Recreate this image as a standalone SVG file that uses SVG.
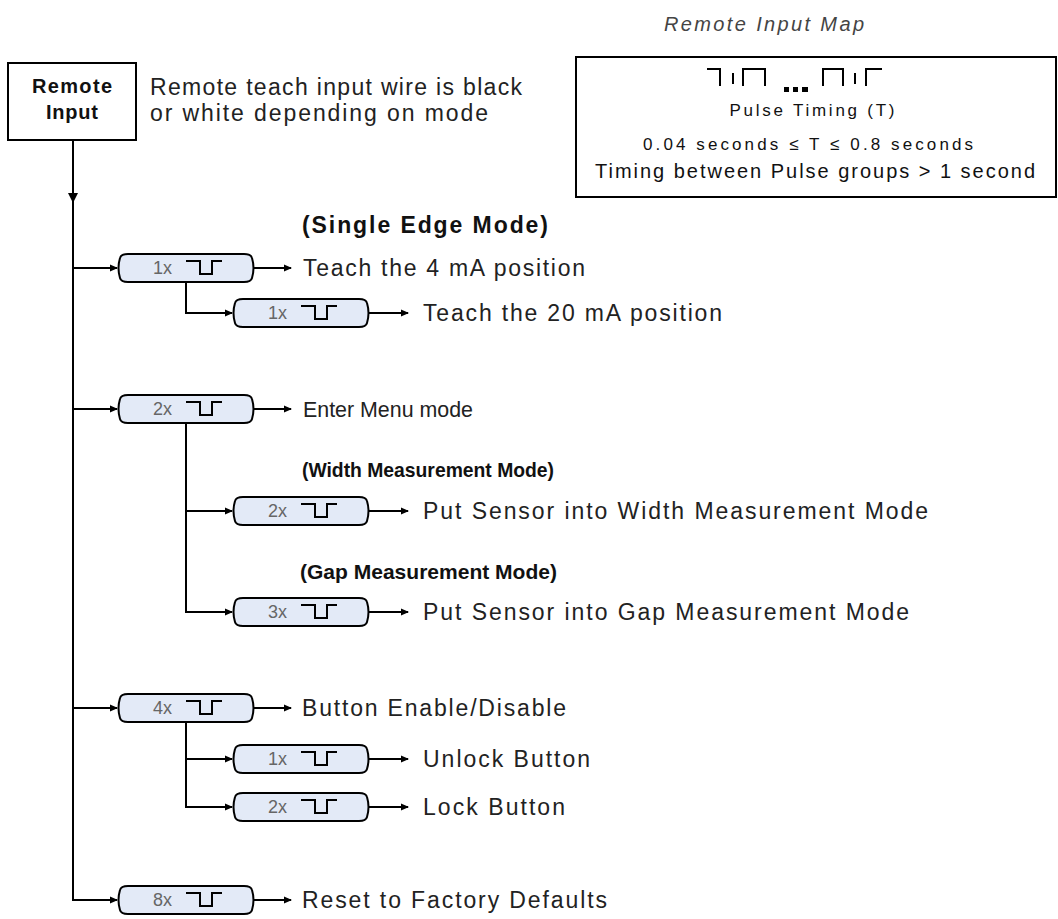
<svg xmlns="http://www.w3.org/2000/svg" xmlns:xlink="http://www.w3.org/1999/xlink" width="1058" height="919" viewBox="0 0 1058 919">
<style>
.t{font-family:"Liberation Sans",Arial,sans-serif;font-size:23px;fill:#222}
.e{font-family:"Liberation Sans",Arial,sans-serif;font-size:22px;fill:#222}
.b{font-family:"Liberation Sans",Arial,sans-serif;font-size:23px;font-weight:bold;fill:#111}
.bw{font-family:"Liberation Sans",Arial,sans-serif;font-size:21px;font-weight:bold;fill:#111}
.c{font-family:"Liberation Sans",Arial,sans-serif;font-size:18px;fill:#666}
.m{font-family:"Liberation Sans",Arial,sans-serif;font-size:20px;fill:#111}
.s{font-family:"Liberation Sans",Arial,sans-serif;font-size:17px;fill:#111}
.ttl{font-family:"Liberation Sans",Arial,sans-serif;font-size:20px;font-style:italic;fill:#444}
.bx{font-family:"Liberation Sans",Arial,sans-serif;font-size:20px;font-weight:bold;fill:#111}
.ar{fill:none;stroke:#000;stroke-width:2;marker-end:url(#ah)}
.pn{fill:#e3eaf7;stroke:#000;stroke-width:2}
.pl{fill:none;stroke:#000;stroke-width:2}
</style>
<defs>
<marker id="ah" viewBox="0 0 8 8" refX="7" refY="4" markerWidth="8" markerHeight="8" markerUnits="userSpaceOnUse" orient="auto">
<path d="M0,0.5 L8,4 L0,7.5 Z" fill="#000"/>
</marker>
<g id="pnode">
<path class="pn" d="M10,0 H126 Q133,0 134,4 Q137,14 134,24 Q133,28 126,28 H10 Q3,28 2,24 Q-1,14 2,4 Q3,0 10,0 Z"/>
<path class="pl" d="M68,7 H82 V20 H94 V7 H104"/>
</g>
</defs>
<rect width="1058" height="919" fill="#fff"/>

<text class="ttl" x="764" y="31" text-anchor="middle" textLength="200" lengthAdjust="spacing">Remote Input Map</text>

<g id="remote-input">
<rect x="8" y="63" width="128" height="77" fill="#fff" stroke="#000" stroke-width="2"/>
<text class="bx" x="72" y="93" text-anchor="middle" textLength="80" lengthAdjust="spacing">Remote</text>
<text class="bx" x="72" y="119" text-anchor="middle" textLength="52" lengthAdjust="spacing">Input</text>
</g>

<g id="remote-note">
<text class="t" x="150" y="95" textLength="372" lengthAdjust="spacing">Remote teach input wire is black</text>
<text class="t" x="150" y="121" textLength="338" lengthAdjust="spacing">or white depending on mode</text>
</g>

<g id="input-map">
<rect x="576" y="57" width="480" height="140" fill="#fff" stroke="#000" stroke-width="2"/>
<path class="pl" d="M707,69 H720 V86 M733,73 V84 M743,86 V69 H765 V86 M823,86 V69 H843 V86 M855,73 V84 M866,86 V69 H882"/>
<rect x="784" y="87" width="5" height="5" fill="#000"/>
<rect x="793" y="87" width="5" height="5" fill="#000"/>
<rect x="802" y="87" width="6" height="5" fill="#000"/>
<text class="s" x="812" y="116" text-anchor="middle" textLength="165" lengthAdjust="spacing">Pulse Timing (T)</text>
<text class="s" x="808" y="150" text-anchor="middle" textLength="330" lengthAdjust="spacing">0.04 seconds ≤ T ≤ 0.8 seconds</text>
<text class="m" x="815" y="178" text-anchor="middle" textLength="440" lengthAdjust="spacing">Timing between Pulse groups &gt; 1 second</text>
</g>

<g id="connectors">
<path class="ar" d="M73,140 V900 H117"/>
<path d="M68,193 L78,193 L73,203 Z" fill="#000"/>
<path class="ar" d="M73,268 H117"/>
<path class="ar" d="M73,409 H117"/>
<path class="ar" d="M73,708 H117"/>
<path class="ar" d="M186,282 V313 H232"/>
<path class="ar" d="M186,423 V612 H232"/>
<path class="ar" d="M186,511 H232"/>
<path class="ar" d="M186,722 V807 H232"/>
<path class="ar" d="M186,759 H232"/>
<path class="ar" d="M254,268 H291"/>
<path class="ar" d="M369,313 H408"/>
<path class="ar" d="M254,409 H291"/>
<path class="ar" d="M369,511 H408"/>
<path class="ar" d="M369,612 H408"/>
<path class="ar" d="M254,708 H291"/>
<path class="ar" d="M369,759 H408"/>
<path class="ar" d="M369,807 H408"/>
<path class="ar" d="M254,900 H291"/>
</g>

<g id="single-edge">
<text class="b" x="302" y="233" textLength="246" lengthAdjust="spacing">(Single Edge Mode)</text>
</g>
<g id="node-1x">
<use href="#pnode" x="118" y="254"/>
<text class="c" x="153" y="274">1x</text>
<text class="t" x="303" y="276" textLength="282" lengthAdjust="spacing">Teach the 4 mA position</text>
</g>
<g id="node-1x-20ma">
<use href="#pnode" x="233" y="299"/>
<text class="c" x="268" y="319">1x</text>
<text class="t" x="423" y="321" textLength="299" lengthAdjust="spacing">Teach the 20 mA position</text>
</g>

<g id="node-2x">
<use href="#pnode" x="118" y="395"/>
<text class="c" x="153" y="415">2x</text>
<text class="e" x="303" y="417" textLength="170" lengthAdjust="spacingAndGlyphs">Enter Menu mode</text>
</g>
<g id="width-mode">
<text class="bw" x="302" y="477" textLength="252" lengthAdjust="spacingAndGlyphs">(Width Measurement Mode)</text>
</g>
<g id="node-2x-width">
<use href="#pnode" x="233" y="497"/>
<text class="c" x="268" y="517">2x</text>
<text class="t" x="423" y="519" textLength="505" lengthAdjust="spacing">Put Sensor into Width Measurement Mode</text>
</g>
<g id="gap-mode">
<text class="bw" x="300" y="579" textLength="257" lengthAdjust="spacingAndGlyphs">(Gap Measurement Mode)</text>
</g>
<g id="node-3x-gap">
<use href="#pnode" x="233" y="598"/>
<text class="c" x="268" y="618">3x</text>
<text class="t" x="423" y="620" textLength="486" lengthAdjust="spacing">Put Sensor into Gap Measurement Mode</text>
</g>

<g id="node-4x">
<use href="#pnode" x="118" y="694"/>
<text class="c" x="153" y="714">4x</text>
<text class="t" x="302" y="716" textLength="264" lengthAdjust="spacing">Button Enable/Disable</text>
</g>
<g id="node-1x-unlock">
<use href="#pnode" x="233" y="745"/>
<text class="c" x="268" y="765">1x</text>
<text class="t" x="423" y="767" textLength="167" lengthAdjust="spacing">Unlock Button</text>
</g>
<g id="node-2x-lock">
<use href="#pnode" x="233" y="793"/>
<text class="c" x="268" y="813">2x</text>
<text class="t" x="423" y="815" textLength="142" lengthAdjust="spacing">Lock Button</text>
</g>

<g id="node-8x">
<use href="#pnode" x="118" y="886"/>
<text class="c" x="153" y="906">8x</text>
<text class="t" x="302" y="908" textLength="305" lengthAdjust="spacing">Reset to Factory Defaults</text>
</g>
</svg>
